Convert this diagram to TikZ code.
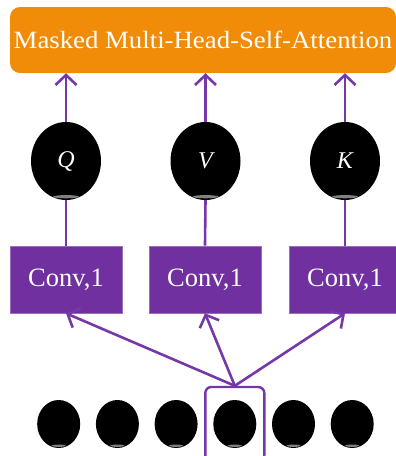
\documentclass[tikz,border=0pt]{standalone}
\usepackage{fontspec}
\usepackage{graphicx}
\setmainfont{Liberation Serif}
\usetikzlibrary{arrows.meta,shapes.geometric}
\definecolor{attnorange}{RGB}{240,140,8}
\definecolor{convpurple}{RGB}{112,48,160}
\definecolor{edgepurple}{RGB}{118,56,168}
\tikzset{
  attnbox/.style={rectangle, rounded corners=10pt, fill=attnorange, draw=none,
    minimum width=386pt, minimum height=66pt, inner sep=0pt, text=white},
  convbox/.style={rectangle, fill=convpurple, draw=convpurple!70!white, line width=0.6pt,
    minimum width=112pt, minimum height=67pt, inner sep=0pt, text=white,
    font=\fontsize{26.5}{30}\selectfont},
  qkv/.style={ellipse, fill=black, minimum width=70pt, minimum height=78pt,
    inner sep=0pt, text=white, font=\fontsize{24}{27}\selectfont\itshape},
  token/.style={ellipse, fill=black, minimum width=43pt, minimum height=48pt, inner sep=0pt},
  pick/.style={rectangle, rounded corners=6pt, draw=edgepurple, line width=2.4pt,
    minimum width=59pt, minimum height=74pt, inner sep=0pt},
  conn/.style={draw=edgepurple, line width=2.6pt},
  arr/.style={conn, -{Straight Barb[length=10pt,width=21pt,line width=2.6pt]}},
  sheen/.style={fill=white, opacity=0.5}
}
\begin{document}
\begin{tikzpicture}[x=1pt,y=-1pt]
\useasboundingbox (0,0) rectangle (396,456);

% attention block
\node[attnbox] (attn) at (203,40)
  {\scalebox{1.08}[1]{\fontsize{24.8}{28}\selectfont Masked Multi-Head-Self-Attention}};

% query / value / key
\node[qkv] (Q) at (66,161) {Q};
\node[qkv] (V) at (205.5,161) {V};
\node[qkv] (K) at (345,161) {K};
\foreach \n in {Q,V,K}{
  \fill[sheen] ([yshift=3.5pt]\n.south) ellipse (13pt and 1.6pt);
}

% 1x1 convolutions
\node[convbox] (cQ) at (66,279.5) {Conv,1};
\node[convbox] (cV) at (205,279.5) {Conv,1};
\node[convbox] (cK) at (345,279.5) {Conv,1};

% input tokens
\foreach \i in {1,...,6}{
  \node[token] (t\i) at ({58.7*\i},424) {};
  \fill[sheen] ([yshift=2.5pt]t\i.south) ellipse (7pt and 1.2pt);
}
\node[pick] (sel) at (t4) {};

% connectors
\foreach \n in {Q,V,K}{
  \draw[arr] (\n.north) -- (\n.north |- attn.south);
  \draw[conn] (c\n.north) -- (\n.south);
  \draw[arr] (sel.north) -- (c\n.south);
}
\end{tikzpicture}
\end{document}
